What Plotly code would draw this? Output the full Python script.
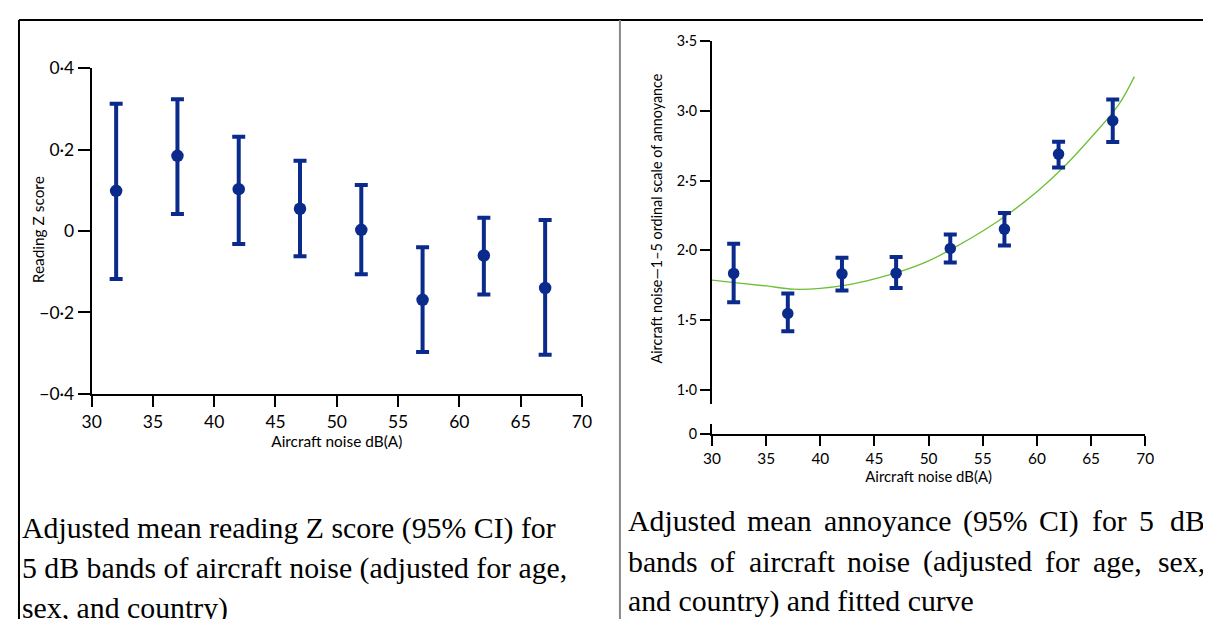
import plotly.graph_objects as go

# ---------------- data ----------------
noise_db = [32, 37, 42, 47, 52, 57, 62, 67]

reading_mean = [0.099, 0.185, 0.103, 0.055, 0.003, -0.169, -0.060, -0.140]
reading_upper = [0.313, 0.324, 0.232, 0.173, 0.113, -0.040, 0.033, 0.027]
reading_lower = [-0.118, 0.042, -0.032, -0.062, -0.106, -0.297, -0.156, -0.304]

annoy_mean = [1.835, 1.547, 1.832, 1.837, 2.014, 2.153, 2.691, 2.930]
annoy_upper = [2.048, 1.691, 1.947, 1.952, 2.115, 2.269, 2.779, 3.082]
annoy_lower = [1.628, 1.420, 1.712, 1.731, 1.914, 2.036, 2.595, 2.777]

curve_x = [30, 32.5, 35, 37.5, 40, 42.5, 45, 47.5, 50, 52.5, 55, 57.5, 60, 62.5, 65, 67.5, 69]
curve_y = [1.787, 1.765, 1.745, 1.722, 1.727, 1.752, 1.795, 1.851, 1.925, 2.025, 2.139, 2.269, 2.420, 2.600, 2.810, 3.040, 3.247]

x_ticks = [30, 35, 40, 45, 50, 55, 60, 65, 70]
left_y_ticks = [-0.4, -0.2, 0, 0.2, 0.4]
left_y_text = ["\u22120\u00b74", "\u22120\u00b72", "0", "0\u00b72", "0\u00b74"]
right_y_ticks = [1.0, 1.5, 2.0, 2.5, 3.0, 3.5]
right_y_text = ["1\u00b70", "1\u00b75", "2\u00b70", "2\u00b75", "3\u00b70", "3\u00b75"]

caption_left = ["Adjusted mean reading Z score (95% CI) for",
                "5 dB bands of aircraft noise (adjusted for age,",
                "sex, and country)"]
caption_right = ["Adjusted mean annoyance (95% CI) for 5 dB",
                 "bands of aircraft noise (adjusted for age, sex,",
                 "and country) and fitted curve"]

# ---------------- helpers ----------------
W, H = 1216, 623
SX, OX = 0.983, 16.4       # observed mapping of figure px -> photographed px
SY, OY = 0.965, 18.7
FS = 1.0 / ((SX + SY) / 2)  # font compensation
NAVY = "#0b2b8c"
GREEN = "#6cc036"
SANS = "Lato, 'Open Sans', sans-serif"
SERIF = "'Liberation Serif', 'Times New Roman', serif"


def px(x, clamp=True):
    f = (x - OX) / SX
    if clamp:
        f = min(max(f, 1), W - 1)
    return f / W


def py(y):
    f = (y - OY) / SY
    return 1 - min(max(f, 1), H - 1) / H


def fsz(s):
    return s * FS


# Times-Roman advance widths (per 1000 em) for justification
TW = {' ': 250, 'A': 722, 'd': 500, 'j': 278, 'u': 500, 's': 389, 't': 278, 'e': 444,
      'm': 778, 'a': 444, 'n': 500, 'o': 500, 'y': 500, 'c': 444, '(': 333, ')': 333,
      '9': 500, '5': 500, '%': 833, 'C': 667, 'I': 333, 'f': 333, 'r': 333, 'D': 722,
      'B': 667, 'b': 500, 'i': 278, 'g': 500, ',': 250, 'x': 500, 'h': 500, 'l': 278,
      'v': 500, 'p': 500, 'Z': 611, 'w': 722, 'k': 500, '.': 250}


def tw(s, size):
    return sum(TW.get(c, 500) for c in s) * size / 1000.0


fig = go.Figure()

# left panel
fig.add_trace(go.Scatter(
    x=noise_db, y=reading_mean, mode="markers",
    marker=dict(color=NAVY, size=12.5),
    error_y=dict(type="data", symmetric=False,
                 array=[u - m for u, m in zip(reading_upper, reading_mean)],
                 arrayminus=[m - l for m, l in zip(reading_mean, reading_lower)],
                 color=NAVY, thickness=4, width=6.5),
    xaxis="x", yaxis="y", showlegend=False, hoverinfo="skip"))

# right panel
fig.add_trace(go.Scatter(
    x=curve_x, y=curve_y, mode="lines", line=dict(color=GREEN, width=1.3, shape="spline"),
    xaxis="x2", yaxis="y2", showlegend=False, hoverinfo="skip"))
fig.add_trace(go.Scatter(
    x=noise_db, y=annoy_mean, mode="markers",
    marker=dict(color=NAVY, size=11.5),
    error_y=dict(type="data", symmetric=False,
                 array=[u - m for u, m in zip(annoy_upper, annoy_mean)],
                 arrayminus=[m - l for m, l in zip(annoy_mean, annoy_lower)],
                 color=NAVY, thickness=4, width=6.5),
    xaxis="x2", yaxis="y2", showlegend=False, hoverinfo="skip"))
fig.add_trace(go.Scatter(x=[30], y=[0], mode="markers", marker=dict(opacity=0),
                         xaxis="x2", yaxis="y3", showlegend=False, hoverinfo="skip"))

axis_common = dict(showline=True, linecolor="black", linewidth=2, ticks="outside",
                   tickcolor="black", tickwidth=2, showgrid=False, zeroline=False,
                   mirror=False)

upper_bottom_val = 1.0 - (403 - 389) / ((389 - 41) / 2.5)
lower_top_val = (433 - 423) / ((389 - 41) / 2.5)

fig.update_layout(
    width=W, height=H, margin=dict(l=0, r=0, t=0, b=0),
    paper_bgcolor="white", plot_bgcolor="white",
    xaxis=dict(domain=[px(90), px(580)], range=[30, 70], anchor="y",
               tickvals=x_ticks, ticklen=11,
               tickfont=dict(family=SANS, size=fsz(17), color="black"),
               title=dict(text="Aircraft noise dB(A)", standoff=5,
                          font=dict(family=SANS, size=fsz(15), color="black")),
               **axis_common),
    yaxis=dict(domain=[py(393), py(68)], range=[-0.4, 0.4], anchor="x",
               tickvals=left_y_ticks, ticktext=left_y_text, ticklen=12,
               tickfont=dict(family=SANS, size=fsz(17), color="black"),
               **axis_common),
    xaxis2=dict(domain=[px(710), px(1143)], range=[30, 70], anchor="y3",
                tickvals=x_ticks, ticklen=10,
                tickfont=dict(family=SANS, size=fsz(15), color="black"),
                title=dict(text="Aircraft noise dB(A)", standoff=5,
                           font=dict(family=SANS, size=fsz(14.5), color="black")),
                **axis_common),
    yaxis2=dict(domain=[py(403), py(41)], range=[upper_bottom_val, 3.5], anchor="x2",
                tickvals=right_y_ticks, ticktext=right_y_text, ticklen=10,
                tickfont=dict(family=SANS, size=fsz(14), color="black"),
                **axis_common),
    yaxis3=dict(domain=[py(433), py(423)], range=[0, lower_top_val], anchor="x2",
                tickvals=[0], ticktext=["0"], ticklen=10,
                tickfont=dict(family=SANS, size=fsz(14), color="black"),
                **axis_common),
)

# y-axis titles
fig.add_annotation(xref="paper", yref="paper", x=px(36), y=py(229), textangle=-90,
                   xanchor="center", yanchor="middle", showarrow=False,
                   text="Reading Z score", font=dict(family=SANS, size=fsz(15), color="black"))
fig.add_annotation(xref="paper", yref="paper", x=px(655), y=py(218), textangle=-90,
                   xanchor="center", yanchor="middle", showarrow=False,
                   text="Aircraft noise\u20141\u20135 ordinal scale of annoyance",
                   font=dict(family=SANS, size=fsz(14), color="black"))

# frame lines
fig.add_shape(type="line", xref="paper", yref="paper", x0=px(9), x1=1, y0=py(12), y1=py(12),
              line=dict(color="black", width=2))
fig.add_shape(type="line", xref="paper", yref="paper", x0=px(9), x1=px(9), y0=py(12), y1=0,
              line=dict(color="black", width=2))
fig.add_shape(type="line", xref="paper", yref="paper", x0=px(618), x1=px(618), y0=py(12), y1=0,
              line=dict(color="#888888", width=2))

CAPW = 29.3                 # photographed px per em
CAP = CAPW / SX
PAD = 4                     # annotation inner padding (px)
# left caption (ragged right)
for i, line in enumerate(caption_left):
    fig.add_annotation(xref="paper", yref="paper", x=px(22 - PAD, clamp=False), y=py(527 + 40 * i),
                       xanchor="left", yanchor="middle", showarrow=False, text=line,
                       font=dict(family=SERIF, size=CAP, color="black"))

# right caption (justified first two lines)
x_left, x_right = 628, 1201
for i, line in enumerate(caption_right):
    yy = py(520 + 40 * i)
    words = line.split(" ")
    if i < 2:
        total = sum(tw(w, CAPW) for w in words)
        gap = (x_right - x_left - total) / (len(words) - 1)
        xpos = x_left
        for j, w in enumerate(words):
            if j == len(words) - 1:
                fig.add_annotation(xref="paper", yref="paper", x=px(x_right + PAD, clamp=False), y=yy,
                                   xanchor="right", yanchor="middle", showarrow=False, text=w,
                                   font=dict(family=SERIF, size=CAP, color="black"))
            else:
                fig.add_annotation(xref="paper", yref="paper", x=px(xpos - PAD, clamp=False), y=yy,
                                   xanchor="left", yanchor="middle", showarrow=False, text=w,
                                   font=dict(family=SERIF, size=CAP, color="black"))
            xpos += tw(w, CAPW) + gap
    else:
        fig.add_annotation(xref="paper", yref="paper", x=px(x_left - PAD, clamp=False), y=yy,
                           xanchor="left", yanchor="middle", showarrow=False, text=line,
                           font=dict(family=SERIF, size=CAP, color="black"))

fig.write_html("out.html")
